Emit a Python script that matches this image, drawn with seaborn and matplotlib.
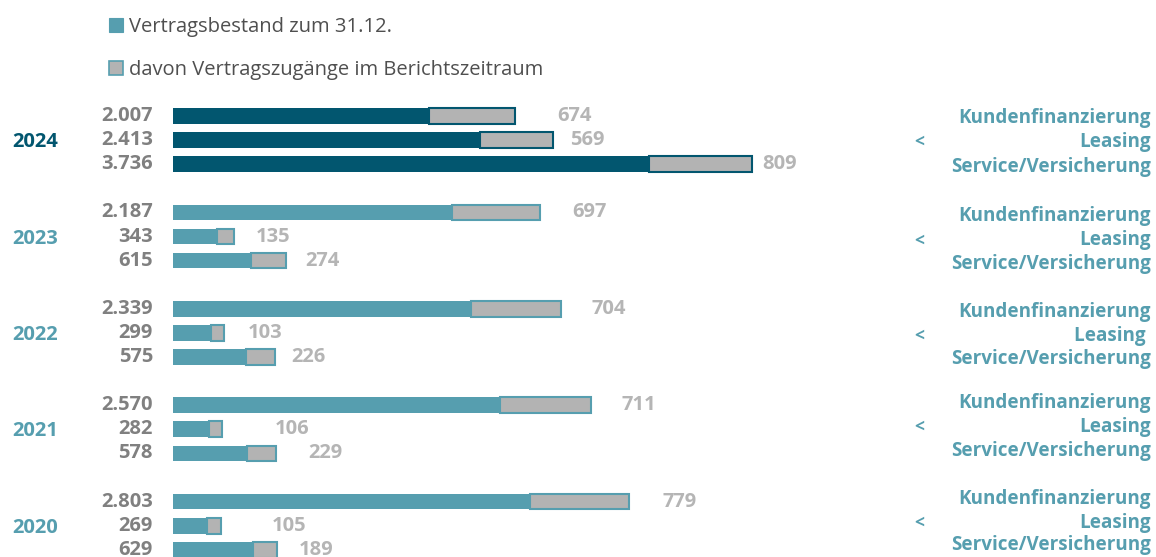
import matplotlib
matplotlib.use("Agg")
import matplotlib.pyplot as plt
from matplotlib.patches import Patch
import numpy as np
import pandas as pd
import seaborn as sns

# ---------------- data ----------------
years = ["2024", "2023", "2022", "2021", "2020"]
categories = ["Kundenfinanzierung", "Leasing", "Service/Versicherung"]

bestand_kundenfinanzierung = [2007, 2187, 2339, 2570, 2803]
bestand_leasing = [2413, 343, 299, 282, 269]
bestand_service = [3736, 615, 575, 578, 629]

zugang_kundenfinanzierung = [674, 697, 704, 711, 779]
zugang_leasing = [569, 135, 103, 106, 105]
zugang_service = [809, 274, 226, 229, 189]

legend_labels = ["Vertragsbestand zum 31.12.",
                 "davon Vertragszugänge im Berichtszeitraum"]

# ---------------- styles ----------------
DARK = "#02566f"
TEAL = "#569eaf"
GRAY = "#b3b3b3"
NUM_LEFT = "#808080"
NUM_RIGHT = "#b5b5b5"
# pixel offsets of the right-hand value labels (per year, per category)
right_label_offset_px = [[43, 17, 10], [32, 22, 19], [31, 24, 16], [31, 52, 32], [33, 51, 22]]
# vertical pixel shifts of the right-hand category blocks (per year)
group_shift_px = [2, 4, 3, -2, -3]
cat_spacing_px = [[0, 24, 49], [0, 24, 48], [0, 24, 47], [0, 24, 48], [0, 24, 46]]

sns.set_theme(style="white")
plt.rcParams["font.family"] = ["Open Sans", "DejaVu Sans"]

bestand_all = [bestand_kundenfinanzierung, bestand_leasing, bestand_service]
zugang_all = [zugang_kundenfinanzierung, zugang_leasing, zugang_service]

rows = []
for g, yr in enumerate(years):
    for r, cat in enumerate(categories):
        b = bestand_all[r][g]
        z = zugang_all[r][g]
        rows.append(dict(year=yr, cat=cat, pos=g * 4 + r, bestand=b, zugang=z,
                         total=b + z, shade="dark" if g == 0 else "light"))
df = pd.DataFrame(rows)

W, H = 1156, 557
fig = plt.figure(figsize=(W / 100, H / 100), dpi=100)
ax = fig.add_axes([0, 0, 1, 1])

BAR_H = 0.65
sns.barplot(data=df, x="total", y="pos", hue="shade",
            palette={"dark": DARK, "light": TEAL}, orient="h",
            native_scale=True, dodge=False, width=BAR_H, legend=False,
            errorbar=None, saturation=1, linewidth=0, ax=ax)

edge_cols = [DARK if s == "dark" else TEAL for s in df["shade"]]
ax.barh(df["pos"], df["zugang"], left=df["bestand"], height=BAR_H,
        color=GRAY, edgecolor=edge_cols, linewidth=1.5)

# axis mapping (pixel = 173 + v*0.1274 ; row pixel = 116 + i*24.1)
px_per_unit = 0.1274
ROW_PX = 24.1
ax.set_xlim(-173 / px_per_unit, (W - 173) / px_per_unit)
ax.set_ylim((H - 116) / ROW_PX, -116 / ROW_PX)
ax.axis("off")

fmt = lambda v: f"{v:,}".replace(",", ".")
PT = 0.72  # points per pixel at 100 dpi

for i, row in df.iterrows():
    g, r = divmod(int(row["pos"]), 4)
    ax.annotate(fmt(row["bestand"]), xy=(0, row["pos"]), xytext=(-20 * PT, 0),
                textcoords="offset points", ha="right", va="center",
                fontsize=14.5, fontweight="bold", color=NUM_LEFT)
    ax.annotate(fmt(row["zugang"]), xy=(row["total"], row["pos"]),
                xytext=(right_label_offset_px[g][r] * PT, 0),
                textcoords="offset points", ha="left", va="center",
                fontsize=14.5, fontweight="bold", color=NUM_RIGHT)

ytr = ax.get_yaxis_transform()
for g, yr in enumerate(years):
    top = g * 4
    ax.annotate(yr, xy=(58 / W, top + 1), xycoords=ytr, xytext=(0, -2 * PT),
                textcoords="offset points", ha="right", va="center",
                fontsize=14.5, fontweight="bold", color=DARK if g == 0 else TEAL)
    ax.annotate("<", xy=(919 / W, top), xycoords=ytr,
                xytext=(0, -(group_shift_px[g] + 24) * PT),
                textcoords="offset points", ha="center", va="center",
                fontsize=12.5, fontweight="bold", color=TEAL)
    for r, cat in enumerate(categories):
        label = cat
        if yr == "2022" and cat == "Leasing":
            label = "Leasing "
        ax.annotate(label, xy=(1151 / W, top), xycoords=ytr,
                    xytext=(0, -(group_shift_px[g] + cat_spacing_px[g][r]) * PT),
                    textcoords="offset points",
                    ha="right", va="center", fontsize=13.6, fontweight="bold",
                    color=TEAL)

handles = [Patch(facecolor=TEAL, edgecolor=TEAL, linewidth=0.8),
           Patch(facecolor=GRAY, edgecolor=TEAL, linewidth=1.2)]
fig.legend(handles, legend_labels, loc="upper left",
           bbox_to_anchor=(109 / W, 1 - 17 / H), frameon=False,
           fontsize=14.5, handlelength=0.7, handleheight=0.7,
           handletextpad=0.27, labelspacing=1.14, borderpad=0,
           borderaxespad=0, labelcolor="#4f4f4f")

fig.savefig("out.png", dpi=100)
